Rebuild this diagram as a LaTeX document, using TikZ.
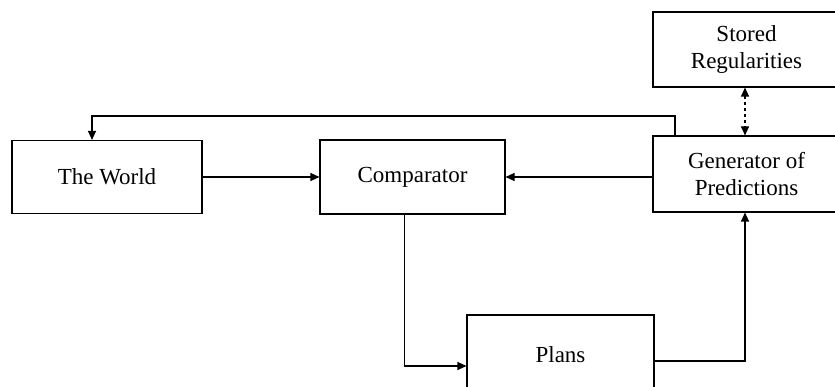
\documentclass[tikz,border=0pt]{standalone}
\usepackage{fontspec}
\setmainfont{Liberation Serif}
\usetikzlibrary{arrows.meta,positioning,calc}

\begin{document}
\begin{tikzpicture}[
    x=1pt,y=-1pt,
    >={Triangle[length=9pt,width=8pt]},
    line width=1.1pt,
    box/.style={draw,rectangle,inner sep=0pt,align=center},
    every node/.style={font=\fontsize{23}{27}\selectfont}
]

\useasboundingbox (0,0) rectangle (835,387);
\clip (0,0) rectangle (835,387);

% boxes
\node[box,minimum width=190pt,minimum height=73pt] (world) at (107,177) {The World};
\node[box,minimum width=185pt,minimum height=74pt] (comp) at (412.5,177) {Comparator};
\node[box,minimum width=187pt,minimum height=76pt] (gen) at (746.5,174) {Generator of\\Predictions};
\node[box,minimum width=187pt,minimum height=75pt] (store) at (746.5,49.5) {Stored\\Regularities};
\node[box,minimum width=187pt,minimum height=80pt] (plans) at (560.5,355) {Plans};

% turning point of the feedback line
\coordinate (fb) at (675,116);

% arrows
\draw[->] (world.east) -- (comp.west);
\draw[->] (gen.west |- comp.east) -- (comp.east);
\draw[->] (fb |- gen.north) -- (fb) -| ([xshift=-15pt]world.north);
\draw[->] ([xshift=-8pt]comp.south) |- ([yshift=-11pt]plans.west);
\draw[->] ([yshift=-6pt]plans.east) -| ([xshift=-1.5pt]gen.south);
\draw[<->,dashed] ([xshift=-1.5pt]store.south) -- ([xshift=-1.5pt]gen.north);

\end{tikzpicture}
\end{document}
